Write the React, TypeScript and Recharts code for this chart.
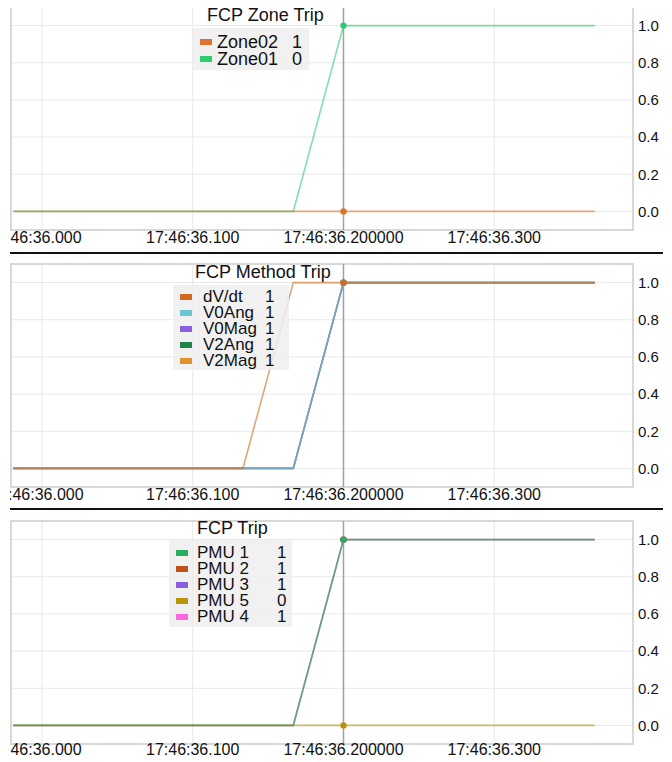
import React from 'react';
import {
  LineChart,
  Line,
  XAxis,
  YAxis,
  CartesianGrid,
  ReferenceLine,
  ReferenceArea,
} from 'recharts';

// time axis, ms after 17:46:36.000
const times = [-19, 0, 33.3, 66.7, 100, 133.3, 166.7, 200, 233.3, 266.7, 300, 333.3, 366.7];
const xTicks = [0, 100, 200, 300];
const xTickLabels = ['17:46:36.000', '17:46:36.100', '17:46:36.200000', '17:46:36.300'];
const yTicks = [0, 0.2, 0.4, 0.6, 0.8, 1.0];
const cursorTime = 200;

// FCP Zone Trip
const zoneNames = ['Zone02', 'Zone01'];
const zoneLegendValues = ['1', '0'];
const zone02 = [0, 0, 0, 0, 0, 0, 0, 0, 0, 0, 0, 0, 0];
const zone01 = [0, 0, 0, 0, 0, 0, 0, 1, 1, 1, 1, 1, 1];

// FCP Method Trip
const methodNames = ['dV/dt', 'V0Ang', 'V0Mag', 'V2Ang', 'V2Mag'];
const methodLegendValues = ['1', '1', '1', '1', '1'];
const dvdt = [0, 0, 0, 0, 0, 0, 1, 1, 1, 1, 1, 1, 1];
const v0ang = [0, 0, 0, 0, 0, 0, 0, 1, 1, 1, 1, 1, 1];
const v0mag = [0, 0, 0, 0, 0, 0, 0, 1, 1, 1, 1, 1, 1];
const v2ang = [0, 0, 0, 0, 0, 0, 0, 1, 1, 1, 1, 1, 1];
const v2mag = [0, 0, 0, 0, 0, 0, 0, 1, 1, 1, 1, 1, 1];

// FCP Trip
const pmuNames = ['PMU 1', 'PMU 2', 'PMU 3', 'PMU 5', 'PMU 4'];
const pmuLegendValues = ['1', '1', '1', '0', '1'];
const pmu1 = [0, 0, 0, 0, 0, 0, 0, 1, 1, 1, 1, 1, 1];
const pmu2 = [0, 0, 0, 0, 0, 0, 0, 1, 1, 1, 1, 1, 1];
const pmu3 = [0, 0, 0, 0, 0, 0, 0, 1, 1, 1, 1, 1, 1];
const pmu5 = [0, 0, 0, 0, 0, 0, 0, 0, 0, 0, 0, 0, 0];
const pmu4 = [0, 0, 0, 0, 0, 0, 0, 1, 1, 1, 1, 1, 1];

const FONT = '"Liberation Sans", Arial, sans-serif';
const X_DOMAIN: [number, number] = [-20.5, 392];
const Y_DOMAIN: [number, number] = [-0.1, 1.1];

interface SeriesDef {
  name: string;
  color: string;
  values: number[];
  opacity?: number;
}

interface LegendLayout {
  left: number;
  top: number;
  width: number;
  height: number;
  nameX: number;
  valueX: number;
  rowTop: number;
  rowH: number;
  fontSize: number;
}

interface PanelProps {
  top: number;
  height: number;
  title: string;
  titleLeft: number;
  titleTop: number;
  legendSeries: SeriesDef[];
  legendValues: string[];
  drawOrder: SeriesDef[];
  legend: LegendLayout;
  firstTickDx: number;
  tickGap: number;
}

const buildRows = (series: SeriesDef[]) =>
  times.map((t, i) => {
    const row: Record<string, number> = { t };
    series.forEach((s) => {
      row[s.name] = s.values[i];
    });
    return row;
  });

const CursorDot = (color: string) => (props: any) => {
  const { cx, cy, payload, index } = props;
  if (payload.t !== cursorTime) return <g key={`d-${index}`} />;
  return <circle key={`d-${index}`} cx={cx} cy={cy} r={3.2} fill={color} stroke="none" />;
};

const TimeTick = (firstDx: number, gap: number) => (props: any) => {
  const { x, y, payload, index } = props;
  const label = xTickLabels[xTicks.indexOf(payload.value)];
  return (
    <text
      x={x + (index === 0 ? firstDx : 0)}
      y={y + gap}
      dy="0.71em"
      textAnchor="middle"
      fill="#111"
      fontSize={16}
      fontFamily={FONT}
    >
      {label}
    </text>
  );
};

const Panel: React.FC<PanelProps> = ({
  top,
  height,
  title,
  titleLeft,
  titleTop,
  legendSeries,
  legendValues,
  drawOrder,
  legend,
  firstTickDx,
  tickGap,
}) => {
  const rows = buildRows(drawOrder);
  return (
    <div style={{ position: 'absolute', left: 10, top, width: 662, height }}>
      <LineChart
        width={662}
        height={height}
        data={rows}
        margin={{ top: 7, right: 0, left: 1, bottom: 0 }}
      >
        <CartesianGrid stroke="#e8e8e8" strokeWidth={1} />
        <XAxis
          dataKey="t"
          type="number"
          domain={X_DOMAIN}
          allowDataOverflow
          ticks={xTicks}
          tickLine={false}
          axisLine={false}
          tickSize={0}
          tickMargin={0}
          height={height - 230}
          interval={0}
          tick={TimeTick(firstTickDx, tickGap)}
        />
        <YAxis
          orientation="right"
          type="number"
          domain={Y_DOMAIN}
          allowDataOverflow
          ticks={yTicks}
          tickFormatter={(v: number) => v.toFixed(1)}
          tickLine={false}
          axisLine={false}
          tickSize={0}
          tickMargin={5}
          width={39}
          interval={0}
          tick={{ fill: '#111', fontSize: 15, fontFamily: FONT }}
        />
        <ReferenceArea
          x1={X_DOMAIN[0]}
          x2={X_DOMAIN[1]}
          y1={Y_DOMAIN[0]}
          y2={Y_DOMAIN[1]}
          fill="none"
          stroke="#d8d8d8"
          strokeWidth={2}
          ifOverflow="visible"
        />
        <ReferenceLine x={cursorTime} stroke="#a0a0a0" strokeWidth={1.5} />
        {drawOrder.map((s) => (
          <Line
            key={s.name}
            type="linear"
            dataKey={s.name}
            stroke={s.color}
            strokeOpacity={s.opacity ?? 0.6}
            strokeWidth={1.6}
            dot={CursorDot(s.color)}
            activeDot={false}
            isAnimationActive={false}
          />
        ))}
      </LineChart>
      <div
        style={{
          position: 'absolute',
          left: titleLeft - 10,
          top: titleTop - top,
          fontFamily: FONT,
          fontSize: 18,
          lineHeight: '20px',
          color: '#111',
          whiteSpace: 'nowrap',
        }}
      >
        {title}
      </div>
      <div
        style={{
          position: 'absolute',
          left: legend.left - 10,
          top: legend.top - top,
          width: legend.width,
          height: legend.height,
          background: 'rgba(238,238,238,0.85)',
          fontFamily: FONT,
          fontSize: legend.fontSize,
          color: '#111',
        }}
      >
        {legendSeries.map((s, i) => {
          const cy = legend.rowTop + i * legend.rowH;
          return (
            <React.Fragment key={s.name}>
              <div
                style={{
                  position: 'absolute',
                  left: 7,
                  top: cy - 3,
                  width: 12,
                  height: 6,
                  background: s.color,
                }}
              />
              <div
                style={{
                  position: 'absolute',
                  left: legend.nameX,
                  top: cy - legend.rowH / 2,
                  height: legend.rowH,
                  lineHeight: `${legend.rowH}px`,
                  whiteSpace: 'nowrap',
                }}
              >
                {s.name}
              </div>
              <div
                style={{
                  position: 'absolute',
                  left: legend.valueX,
                  top: cy - legend.rowH / 2,
                  height: legend.rowH,
                  lineHeight: `${legend.rowH}px`,
                }}
              >
                {legendValues[i]}
              </div>
            </React.Fragment>
          );
        })}
      </div>
    </div>
  );
};

const zoneSeries: SeriesDef[] = [
  { name: zoneNames[0], color: '#e0722f', values: zone02 },
  { name: zoneNames[1], color: '#2ecc71', values: zone01 },
];

const methodSeries: SeriesDef[] = [
  { name: methodNames[0], color: '#d2691e', values: dvdt },
  { name: methodNames[1], color: '#6cc5d1', values: v0ang },
  { name: methodNames[2], color: '#8a5fe0', values: v0mag },
  { name: methodNames[3], color: '#1e8449', values: v2ang },
  { name: methodNames[4], color: '#e0922e', values: v2mag },
];

const pmuSeries: SeriesDef[] = [
  { name: pmuNames[0], color: '#27ae60', values: pmu1, opacity: 0.65 },
  { name: pmuNames[1], color: '#c0501a', values: pmu2, opacity: 0.3 },
  { name: pmuNames[2], color: '#8a5fe0', values: pmu3, opacity: 0.3 },
  { name: pmuNames[3], color: '#b8960c', values: pmu5, opacity: 0.6 },
  { name: pmuNames[4], color: '#ff66e0', values: pmu4, opacity: 0.3 },
];

const Separator: React.FC<{ top: number }> = ({ top }) => (
  <div style={{ position: 'absolute', left: 10, top, width: 653, height: 2, background: '#111' }} />
);

export default function App() {
  return (
    <div
      style={{
        position: 'relative',
        width: 672,
        height: 762,
        marginLeft: -8,
        marginTop: -8,
        overflow: 'hidden',
        background: '#fff',
      }}
    >
      <Panel
        top={0}
        height={257}
        title="FCP Zone Trip"
        titleLeft={207}
        titleTop={5}
        legendSeries={zoneSeries}
        legendValues={zoneLegendValues}
        drawOrder={[zoneSeries[1], zoneSeries[0]]}
        legend={{ left: 193, top: 28, width: 116, height: 42, nameX: 24, valueX: 99, rowTop: 14, rowH: 17, fontSize: 18 }}
        firstTickDx={-7}
        tickGap={2}
      />
      <Separator top={252} />
      <Panel
        top={257}
        height={257}
        title="FCP Method Trip"
        titleLeft={195}
        titleTop={262}
        legendSeries={methodSeries}
        legendValues={methodLegendValues}
        drawOrder={[methodSeries[4], methodSeries[3], methodSeries[2], methodSeries[1], methodSeries[0]]}
        legend={{ left: 173, top: 285, width: 116, height: 85, nameX: 30, valueX: 92, rowTop: 12, rowH: 16, fontSize: 17 }}
        firstTickDx={-5}
        tickGap={2}
      />
      <Separator top={508} />
      <Panel
        top={514}
        height={248}
        title="FCP Trip"
        titleLeft={197}
        titleTop={518}
        legendSeries={pmuSeries}
        legendValues={pmuLegendValues}
        drawOrder={[pmuSeries[4], pmuSeries[2], pmuSeries[1], pmuSeries[3], pmuSeries[0]]}
        legend={{ left: 169, top: 540, width: 123, height: 87, nameX: 28, valueX: 108, rowTop: 13, rowH: 16, fontSize: 17 }}
        firstTickDx={-7}
        tickGap={0}
      />
    </div>
  );
}
